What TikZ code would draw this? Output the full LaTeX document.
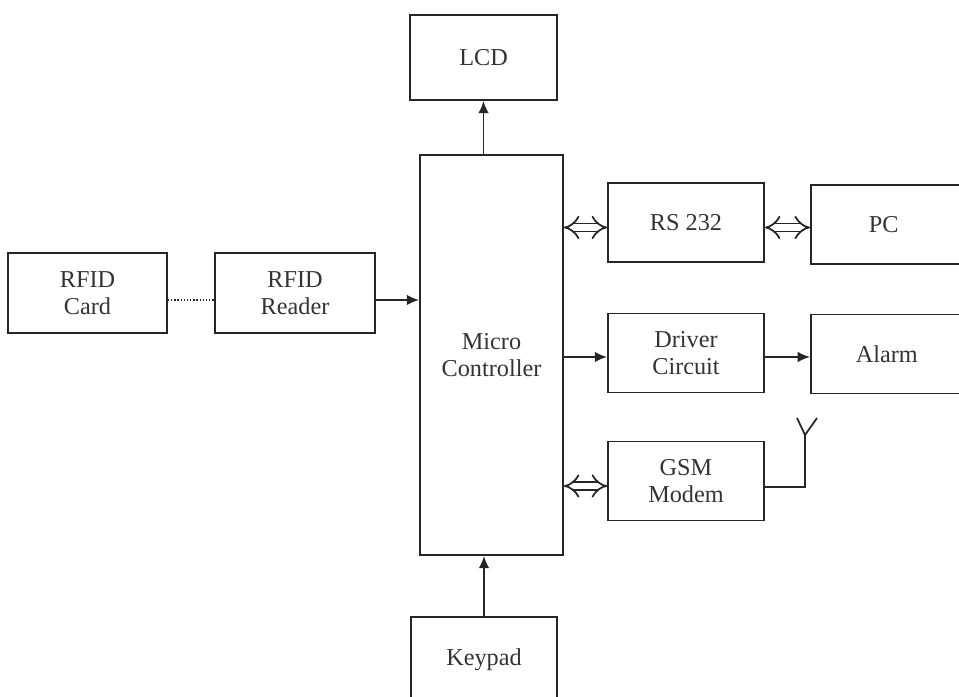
\documentclass[tikz,border=0pt]{standalone}
\usepackage{fontspec}
\setmainfont{Liberation Serif}
\usetikzlibrary{arrows.meta}
\begin{document}
\begin{tikzpicture}[color=black!85,
  blk/.style={draw,line width=1pt,inner sep=0pt,align=center,text=black!80,
    font=\fontsize{13.8}{15.5}\selectfont},
  arr/.style={line width=1pt,-{Latex[length=7pt,width=6pt]}},
  dbl/.style={double,double distance=3.6pt,line width=1pt,{Implies}-{Implies}}]
\useasboundingbox (0,0) rectangle (19.18,13.92);
\clip (0,0) rectangle (19.18,13.92);
\node[blk,minimum width=2.94cm,minimum height=1.7cm] (lcd) at (9.67,12.77) {LCD};
\node[blk,minimum width=2.86cm,minimum height=8cm] (mc) at (9.83,6.82) {Micro\\Controller};
\node[blk,minimum width=3.18cm,minimum height=1.6cm] (card) at (1.75,8.06) {RFID\\Card};
\node[blk,minimum width=3.2cm,minimum height=1.6cm] (reader) at (5.9,8.06) {RFID\\Reader};
\node[blk,minimum width=3.12cm,minimum height=1.58cm] (rs) at (13.72,9.47) {RS 232};
\node[blk,minimum width=3.12cm,minimum height=1.58cm] (drv) at (13.72,6.86) {Driver\\Circuit};
\node[blk,minimum width=3.12cm,minimum height=1.58cm] (gsm) at (13.72,4.3) {GSM\\Modem};
\node[blk,anchor=west,minimum height=1.58cm,text width=1.68cm,inner xsep=1.16cm,align=left] (pc) at (16.2,9.43) {PC};
\node[blk,anchor=west,minimum height=1.58cm,text width=2.2cm,inner xsep=0.9cm,align=left] (alarm) at (16.2,6.84) {Alarm};
\node[blk,anchor=north,minimum width=2.92cm,minimum height=2.4cm,text depth=0.78cm] (key) at (9.68,1.6) {Keypad};
\coordinate (ant) at (16.1,5.22);
\draw[arr] (lcd.south |- mc.north) -- (lcd.south);
\draw[arr] (key.north) -- (key.north |- mc.south);
\draw[densely dotted,line width=0.8pt] ([yshift=-1.4mm]card.east) -- ([yshift=-1.4mm]reader.west);
\draw[arr] ([yshift=-1.4mm]reader.east) -- ([yshift=-1.4mm]reader.east -| mc.west);
\draw[dbl] ([yshift=-1mm]rs.west -| mc.east) -- ([yshift=-1mm]rs.west);
\draw[dbl] ([yshift=-1mm]rs.east) -- ([yshift=-1mm]rs.east -| pc.west);
\draw[arr] ([yshift=-0.8mm]drv.west -| mc.east) -- ([yshift=-0.8mm]drv.west);
\draw[arr] ([yshift=-0.8mm]drv.east) -- ([yshift=-0.8mm]drv.east -| alarm.west);
\draw[dbl] ([yshift=-1mm]gsm.west -| mc.east) -- ([yshift=-1mm]gsm.west);
\draw[line width=1pt] ([yshift=-1.2mm]gsm.east) -| (ant);
\draw[line width=1pt] (15.94,5.56) -- (ant) -- (16.34,5.56);
\end{tikzpicture}
\end{document}
